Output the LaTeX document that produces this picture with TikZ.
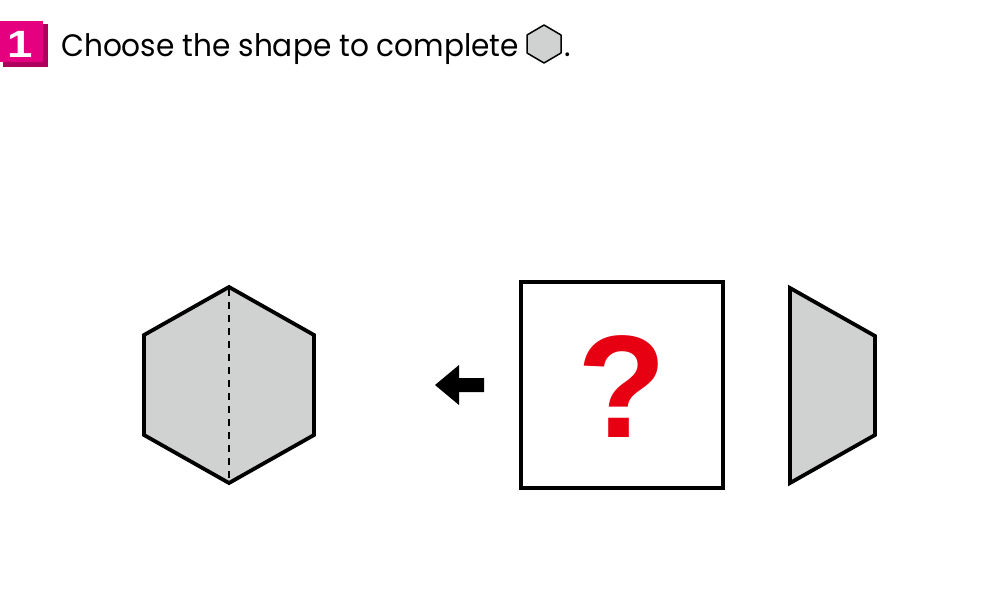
\documentclass[tikz,border=0pt]{standalone}
\usepackage{fontspec}
\setmainfont{Poppins}
\newfontfamily\qfont{Liberation Sans}
\definecolor{pinkf}{HTML}{E4007F}
\definecolor{pinkd}{HTML}{B0005E}
\definecolor{shapegrey}{HTML}{D0D2D1}
\definecolor{qred}{HTML}{E60012}
\begin{document}
\begin{tikzpicture}[x=1pt,y=-1pt,
  outline/.style={draw=black,line width=3.8pt,line join=miter,fill=shapegrey},
  boxline/.style={draw=black,line width=3.2pt,fill=white}]
\useasboundingbox (0,0) rectangle (1000,600);
% badge
\fill[pinkd] (3,24) -- (48,24) -- (48,67) -- (3,67) -- cycle;
\fill[pinkf] (0,21) rectangle (43,62);
\node[anchor=base,text=white,font=\qfont\bfseries\fontsize{38}{38}\selectfont,inner sep=0pt] (num) at (20,57) {\scalebox{1.2}[1]{1}};
% title
\node[anchor=base west,inner sep=0pt,font=\fontsize{31}{31}\selectfont] (title) at (61,56) {\scalebox{0.955}[1]{Choose the shape to complete}};
\draw[draw=black,line width=1.5pt,fill=shapegrey,line join=round] (544,25) -- (527,35) -- (527,53) -- (544,63) -- (561,53) -- (561,35) -- cycle;
\coordinate (smallhex) at (544,44);
\node[anchor=base west,inner sep=0pt,font=\fontsize{31}{31}\selectfont] (dot) at (564,56) {.};
% hexagon
\draw[outline] (229,287) -- (144,335) -- (144,435) -- (229,483) -- (314,435) -- (314,335) -- cycle;
\coordinate (htop) at (229,289);
\coordinate (hbot) at (229,481);
\draw[black,line width=2.2pt,dash pattern=on 7pt off 6pt] (htop) -- (hbot);
% arrow
\fill[black] (435,385) -- (459,365) -- (459,378) -- (484,378) -- (484,392) -- (459,392) -- (459,405) -- cycle;
% box
\draw[boxline] (521,282) rectangle (723,488);
\node[text=qred,font=\qfont\bfseries\fontsize{146}{146}\selectfont,inner sep=0pt,anchor=base] (q) at (622,437) {?};
% trapezoid
\draw[outline] (790,288) -- (875,336) -- (875,435) -- (790,483) -- cycle;
\end{tikzpicture}
\end{document}
